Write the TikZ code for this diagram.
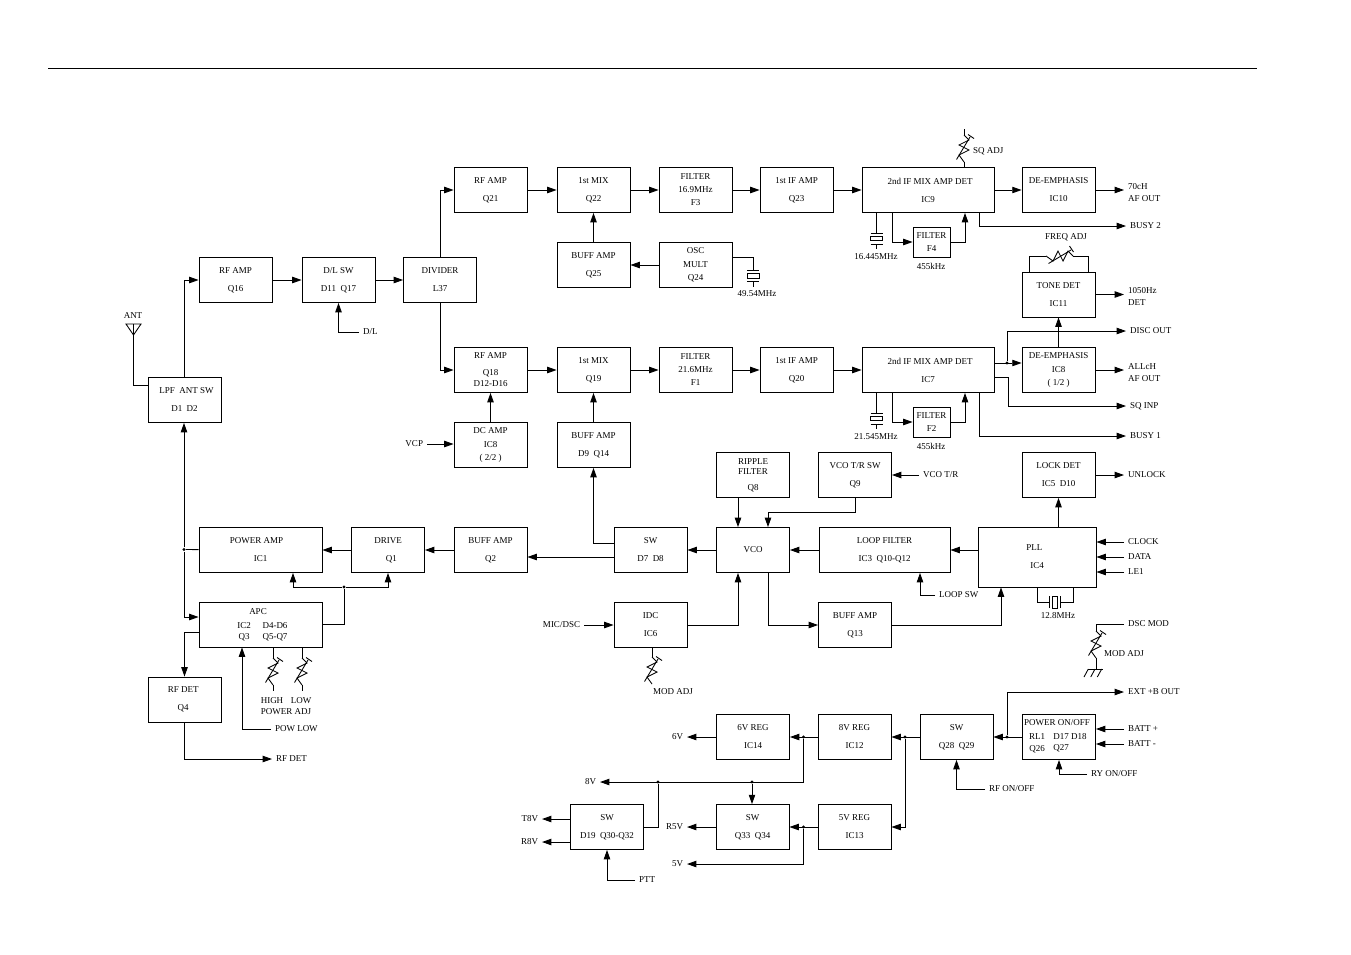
\documentclass[tikz,border=0pt]{standalone}
\usepackage{fontspec}
\setmainfont{Liberation Serif}
\usetikzlibrary{arrows.meta}
\tikzset{
	blk/.style={draw, rectangle, inner sep=0pt, minimum width=54.75pt, minimum height=33.75pt, align=center, font=\fontsize{6.75}{13.5}\selectfont},
	tri/.style={font=\fontsize{6.75}{9.75}\selectfont},
	lbl/.style={inner sep=0pt, outer sep=3pt, align=left, font=\fontsize{6.75}{9}\selectfont},
	txt/.style={inner sep=0pt, align=center, font=\fontsize{6.75}{9}\selectfont},
	dot/.style={circle, fill=black, inner sep=0pt, minimum size=2.4pt},
	arr/.style={-{Triangle[length=7pt,width=4.8pt]}},
	varres/.pic={
		\coordinate (-a) at (1,-15);
		\coordinate (-b) at (1,12);
		\draw (1,-15) -- (6,-10) -- (-4,-5) -- (6,0) -- (-4,5) -- (1,12);
		\draw (-6.5,9.5) -- (7,-13);
		\draw (5,-15.5) -- (11,-11.5);
	},
	xtal/.pic={
		\coordinate (-a) at (0,-5.5);
		\coordinate (-b) at (0,5.5);
		\draw (-6,-5.5) -- (6,-5.5);
		\draw (-6,5.5) -- (6,5.5);
		\draw (-6,-2.2) rectangle (6,2.2);
	}
}
\begin{document}
\begin{tikzpicture}[x=0.75pt,y=-0.75pt,line width=0.65pt]
	\useasboundingbox (0,0) rectangle (1351,954);
	% page rule
	\coordinate (ruleL) at (48,68);
	\coordinate (ruleR) at (1257,68);
	\draw (ruleL) -- (ruleR);

	% guide points for the wires that leave a block off centre
	\coordinate (xbn) at (892,0);
	\coordinate (xfb) at (965,0);
	\coordinate (xbs) at (979,0);
	\coordinate (xrp) at (738,0);
	\coordinate (xpll) at (1001,0);
	\coordinate (xlsw) at (920,0);
	\coordinate (xpa) at (293,0);
	\coordinate (xpow) at (242,0);
	\coordinate (xcl) at (1037,0);
	\coordinate (xcr) at (1073,0);
	\coordinate (xfl) at (1029,0);
	\coordinate (xfr) at (1088,0);
	\coordinate (yosc) at (0,257);
	\coordinate (yant) at (0,385);
	\coordinate (ysw) at (0,543);
	\coordinate (yq2) at (0,557);
	\coordinate (yin) at (0,617);
	\coordinate (yout) at (0,632);
	\coordinate (yif) at (0,363);
	\coordinate (ysq) at (0,377);
	\coordinate (jt) at (768,512);
	\coordinate (jsq) at (1008,377);

	% upper receiver
	\node[blk] (q16) at (235.5,280) {RF AMP\\Q16};
	\node[blk] (dlsw) at (338.5,280) {D/L SW\\D11\ \ Q17};
	\node[blk] (div) at (440,280) {DIVIDER\\L37};
	\node[blk] (q21) at (490.5,190) {RF AMP\\Q21};
	\node[blk] (q22) at (593.5,190) {1st MIX\\Q22};
	\node[blk,tri] (f3) at (695.5,190) {FILTER\\16.9MHz\\F3};
	\node[blk] (q23) at (796.5,190) {1st IF AMP\\Q23};
	\node[blk,minimum width=99pt] (ic9) at (928,190) {\hspace*{3pt}2nd IF MIX AMP DET\\IC9};
	\node[blk] (ic10) at (1058.5,190) {DE-EMPHASIS\\IC10};
	\node[blk] (q25) at (593.5,265) {BUFF AMP\\Q25};
	\node[blk,tri] (osc) at (695.5,265) {OSC\\[1pt]MULT\\Q24};
	\node[blk,tri,minimum width=27.75pt,minimum height=22.5pt] (f4) at (931.5,242) {FILTER\\F4};

	% lower receiver
	\node[blk] (tone) at (1058.5,294.5) {TONE DET\\IC11};
	\node[blk,tri] (q18) at (490.5,370) {RF AMP\\[3pt]Q18\\[-1.5pt]D12-D16};
	\node[blk] (q19) at (593.5,370) {1st MIX\\Q19};
	\node[blk,tri] (f1) at (695.5,370) {FILTER\\21.6MHz\\F1};
	\node[blk] (q20) at (796.5,370) {1st IF AMP\\Q20};
	\node[blk,minimum width=99pt] (ic7) at (928,370) {\hspace*{3pt}2nd IF MIX AMP DET\\IC7};
	\node[blk,tri] (ic8) at (1058.5,370) {DE-EMPHASIS\\[1pt]IC8\\( 1/2 )};
	\node[blk,tri,minimum width=27.75pt,minimum height=22.5pt] (f2) at (931.5,422) {FILTER\\F2};
	\node[blk,tri] (dcamp) at (490.5,445) {DC AMP\\[1pt]IC8\\( 2/2 )};
	\node[blk] (d9) at (593.5,445) {BUFF AMP\\D9\ \ Q14};

	% transmitter and synth
	\node[blk] (lpf) at (184.5,400) {\hspace*{3pt}LPF\ \ ANT SW\\D1\ \ D2};
	\node[blk,tri] (ripple) at (753,475) {RIPPLE\\[-2pt]FILTER\\[2pt]Q8};
	\node[blk] (vcosw) at (855,475) {VCO T/R SW\\Q9};
	\node[blk] (lockdet) at (1058.5,475) {LOCK DET\\IC5\ \ D10};
	\node[blk,minimum width=92.25pt] (pamp) at (260.5,550) {\hspace*{-6pt}POWER AMP\\IC1};
	\node[blk] (drive) at (388,550) {DRIVE\\\hspace*{5pt}Q1};
	\node[blk] (q2) at (490.5,550) {BUFF AMP\\Q2};
	\node[blk] (swd7) at (650.5,550) {SW\\D7\ \ D8};
	\node[blk] (vco) at (753,550) {VCO};
	\node[blk,minimum width=98.25pt] (loopf) at (884.5,550) {LOOP FILTER\\IC3\ \ Q10-Q12};
	\node[blk,minimum width=88.5pt,minimum height=45pt] (pll) at (1037,557) {\hspace*{-4pt}PLL\\IC4};
	\node[blk,minimum width=92.25pt] (apc) at (260.5,624.5) {};
	\node[blk] (rfdet) at (184.5,699.5) {\hspace*{-2pt}RF DET\\\hspace*{-2pt}Q4};
	\node[blk] (idc) at (650.5,625) {IDC\\IC6};
	\node[blk] (q13) at (855,625) {BUFF AMP\\Q13};

	% power supply
	\node[blk] (reg6) at (753,737) {6V REG\\IC14};
	\node[blk] (reg8) at (854.5,737) {8V REG\\IC12};
	\node[blk] (sw28) at (956.5,737) {SW\\Q28\ \ Q29};
	\node[blk] (pwr) at (1059,737) {};
	\node[blk] (swd19) at (607,827) {SW\\D19\ \ Q30-Q32};
	\node[blk] (swq33) at (752.5,827) {SW\\Q33\ \ Q34};
	\node[blk] (reg5) at (854.5,827) {5V REG\\IC13};

	% texts inside apc and power block
	\node[txt] (apct) at (258,612) {APC};
	\node[txt] (apca) at (244,626) {IC2};
	\node[txt] (apcb) at (275,626) {D4-D6};
	\node[txt] (apcc) at (244,637) {Q3};
	\node[txt] (apcd) at (275,637) {Q5-Q7};
	\node[txt] (pwrt) at (1057,723) {POWER ON/OFF};
	\node[txt] (pwra) at (1037,737) {RL1};
	\node[txt] (pwrb) at (1070,737) {D17 D18};
	\node[txt] (pwrc) at (1037,749) {Q26};
	\node[txt] (pwrd) at (1061,748) {Q27};

	% outer labels
	\node[txt] (lant) at (133,316) {ANT};
	\node[lbl,anchor=west] (lsq) at (969,151) {SQ ADJ};
	\node[lbl,anchor=west] (l70) at (1124,193) {70cH\\AF OUT};
	\node[lbl,anchor=west] (lbusy2) at (1126,226) {BUSY 2};
	\node[txt] (lfq) at (1066,237) {FREQ ADJ};
	\node[lbl,anchor=west] (l1050) at (1124,297) {1050Hz\\DET};
	\node[lbl,anchor=west] (ldisc) at (1126,331) {DISC OUT};
	\node[lbl,anchor=west] (lall) at (1124,373) {ALLcH\\AF OUT};
	\node[lbl,anchor=west] (lsqi) at (1126,406) {SQ INP};
	\node[lbl,anchor=west] (lbusy1) at (1126,436) {BUSY 1};
	\node[txt] (l49) at (757,294) {49.54MHz};
	\node[txt] (l164) at (876,257) {16.445MHz};
	\node[txt] (l215) at (876,437) {21.545MHz};
	\node[txt] (l455a) at (931,266) {455kHz};
	\node[txt] (l455b) at (931,446) {455kHz};
	\node[lbl,anchor=west] (ldl) at (359,332) {D/L};
	\node[lbl,anchor=east] (lvcp) at (427,444) {VCP};
	\node[lbl,anchor=west] (lvcot) at (919,475) {VCO T/R};
	\node[lbl,anchor=west] (lunlock) at (1124,475) {UNLOCK};
	\node[lbl,anchor=west] (lclock) at (1124,542) {CLOCK};
	\node[lbl,anchor=west] (ldata) at (1124,557) {DATA};
	\node[lbl,anchor=west] (lle) at (1124,572) {LE1};
	\node[lbl,anchor=west] (lloop) at (935,595) {LOOP SW};
	\node[txt] (l128) at (1058,616) {12.8MHz};
	\node[lbl,anchor=west] (ldsc) at (1124,624) {DSC MOD};
	\node[lbl,anchor=west] (lmoda) at (1100,654) {MOD ADJ};
	\node[lbl,anchor=east] (lmic) at (584,625) {MIC/DSC};
	\node[lbl,anchor=west] (lmodb) at (649,692) {MOD ADJ};
	\node[txt] (lhigh) at (272,701) {HIGH};
	\node[txt] (llow) at (301,701) {LOW};
	\node[txt] (lpadj) at (286,712) {POWER ADJ};
	\node[lbl,anchor=west] (lpow) at (271,729) {POW LOW};
	\node[lbl,anchor=west] (lrf) at (272,759) {RF DET};
	\node[lbl,anchor=west] (lext) at (1124,692) {EXT +B OUT};
	\node[lbl,anchor=west] (lbp) at (1124,729) {BATT +};
	\node[lbl,anchor=west] (lbm) at (1124,744) {BATT -};
	\node[lbl,anchor=west] (lry) at (1087,774) {RY ON/OFF};
	\node[lbl,anchor=west] (lrfon) at (985,789) {RF ON/OFF};
	\node[lbl,anchor=east] (v6) at (687,737) {6V};
	\node[lbl,anchor=east] (v8) at (600,782) {8V};
	\node[lbl,anchor=east] (r5v) at (687,827) {R5V};
	\node[lbl,anchor=east] (v5) at (687,864) {5V};
	\node[lbl,anchor=east] (t8v) at (542,819) {T8V};
	\node[lbl,anchor=east] (r8v) at (542,842) {R8V};
	\node[lbl,anchor=west] (lptt) at (635,880) {PTT};

	% junctions
	\node[dot] (jpa) at (184,549.5) {};
	\node[dot] (japc) at (344,587) {};
	\node[dot] (jb) at (1007,737) {};
	\node[dot] (j8) at (905,737) {};
	\node[dot] (j6) at (803.5,737) {};
	\node[dot] (j5) at (803.5,827) {};
	\node[dot] (j82) at (752,782) {};
	\node[dot] (j83) at (658,782) {};
	\node[dot] (jd) at (1007,363) {};

	% variable resistors and crystals
	\pic (rsq) at (963,150) {varres};
	\pic (rhi) at (272,673) {varres};
	\pic (rlo) at (301,673) {varres};
	\pic (rmb) at (651,672) {varres};
	\pic (rma) at (1095,646) {varres};
	\pic[rotate=-90,xscale=-1] (rfq) at (1058,257) {varres};
	\pic (x49) at (753,276) {xtal};
	\pic (x16) at (876.5,238.5) {xtal};
	\pic (x21) at (876.5,418.5) {xtal};
	\pic[rotate=90] (x12) at (1055,602) {xtal};

	% upper chain
	\draw[arr] (lpf) |- (q16);
	\draw[arr] (q16) -- (dlsw);
	\draw[arr] (dlsw) -- (div);
	\draw[arr] (ldl) -| (dlsw);
	\draw[arr] (div) |- (q21);
	\draw[arr] (q21) -- (q22);
	\draw[arr] (q22) -- (f3);
	\draw[arr] (f3) -- (q23);
	\draw[arr] (q23) -- (ic9);
	\draw[arr] (ic9) -- (ic10);
	\draw[arr] (ic10) -- (ic10 -| l70.west);
	\draw[arr] (q25) -- (q22);
	\draw[arr] (osc) -- (q25);
	\draw (osc.east |- yosc) -| (x49-a);
	\draw (x49-b) -- ++(0,5);
	\draw (ic9.south -| x16-a) -- (x16-a);
	\draw (x16-b) -- ++(0,5);
	\draw[arr] (ic9.south -| xbn) |- (f4);
	\draw[arr] (f4) -| (ic9.south -| xfb);
	\draw[arr] (ic9.south -| xbs) |- (lbusy2);
	\draw (ic9.north -| rsq-b) -- (rsq-b);
	\draw (rsq-a) -- ++(0,-6);

	% lower chain
	\draw[arr] (div) |- (q18);
	\draw[arr] (q18) -- (q19);
	\draw[arr] (q19) -- (f1);
	\draw[arr] (f1) -- (q20);
	\draw[arr] (q20) -- (ic7);
	\draw[arr] (dcamp) -- (q18);
	\draw[arr] (lvcp) -- (dcamp.west |- lvcp);
	\draw[arr] (d9) -- (q19);
	\draw (ic7.south -| x21-a) -- (x21-a);
	\draw (x21-b) -- ++(0,5);
	\draw[arr] (ic7.south -| xbn) |- (f2);
	\draw[arr] (f2) -| (ic7.south -| xfb);
	\draw[arr] (ic7.south -| xbs) |- (lbusy1);
	\draw[arr] (ic7.east |- yif) -- (ic8.west |- yif);
	\draw[arr] (jd) |- (ldisc);
	\draw[arr] (ic7.east |- ysq) -| (jsq) |- (lsqi);
	\draw[arr] (ic8) -- (ic8 -| lall.west);
	\draw[arr] (ic8) -- (tone);
	\draw[arr] (tone) -- (tone -| l1050.west);
	\draw (tone.north -| xfl) |- (rfq-b);
	\draw (tone.north -| xfr) |- (rfq-a);

	% antenna
	\coordinate (anttip) at (133.5,335);
	\draw (126,324) -- (141,324) -- (anttip) -- cycle;
	\draw (133.5,324) -- (anttip) |- (lpf.west |- yant);

	% transmit side
	\draw[arr] (jpa) -- (lpf.south -| jpa);
	\draw[arr] (jpa) |- (apc.west |- yin);
	\draw (pamp) -- (jpa);
	\draw[arr] (drive) -- (pamp);
	\draw[arr] (q2) -- (drive);
	\draw[arr] (swd7.west |- yq2) -- (q2.east |- yq2);
	\draw[arr] (swd7.west |- ysw) -| (d9);
	\draw[arr] (vco) -- (swd7);
	\draw[arr] (loopf) -- (vco);
	\draw[arr] (pll.west |- loopf) -- (loopf);
	\draw[arr] (pll.north -| lockdet) -- (lockdet);
	\draw[arr] (lockdet) -- (lunlock);
	\draw[arr] (lclock) -- (pll.east |- lclock);
	\draw[arr] (ldata) -- (pll.east |- ldata);
	\draw[arr] (lle) -- (pll.east |- lle);
	\draw[arr] (ripple.south -| xrp) -- (vco.north -| xrp);
	\draw[arr] (lvcot) -- (vcosw);
	\draw[arr] (vcosw) |- (jt) -- (vco.north -| jt);
	\draw[arr] (idc) -| (vco.south -| xrp);
	\draw[arr] (lmic) -- (idc);
	\draw[arr] (vco.south -| jt) |- (q13);
	\draw[arr] (q13) -| (pll.south -| xpll);
	\draw[arr] (lloop) -| (loopf.south -| xlsw);
	\draw (pll.south -| xcl) |- (x12-a);
	\draw (pll.south -| xcr) |- (x12-b);
	\draw (idc.south -| rmb-a) -- (rmb-a);
	\draw (apc) -| (japc);
	\draw[arr] (japc) -| (pamp.south -| xpa);
	\draw[arr] (japc) -| (drive);
	\draw[arr] (apc.west |- yout) -| (rfdet);
	\draw[arr] (rfdet) |- (lrf);
	\draw[arr] (lpow) -| (apc.south -| xpow);
	\draw (apc.south -| rhi-a) -- (rhi-a);
	\draw (rhi-b) -- ++(0,6);
	\draw (apc.south -| rlo-a) -- (rlo-a);
	\draw (rlo-b) -- ++(0,6);

	% dsc mod pot and earth
	\draw (ldsc) -| (rma-a);
	\draw (rma-b) -- ++(0,11);
	\draw (1088,669) -- (1103,669);
	\draw (1088.3,669) -- (1084,677);
	\draw (1095,669) -- (1090.7,677);
	\draw (1101.7,669) -- (1097.3,677);

	% power supply
	\draw[arr] (lbp) -- (pwr.east |- lbp);
	\draw[arr] (lbm) -- (pwr.east |- lbm);
	\draw[arr] (lry) -| (pwr);
	\draw[arr] (lrfon) -| (sw28);
	\draw[arr] (pwr) -- (sw28);
	\draw[arr] (jb) |- (lext);
	\draw[arr] (sw28) -- (reg8);
	\draw[arr] (j8) |- (reg5);
	\draw[arr] (reg8) -- (reg6);
	\draw[arr] (reg6) -- (v6);
	\draw[arr] (j6) |- (v8);
	\draw[arr] (j82) -- (swq33.north -| j82);
	\draw (j83) |- (swd19);
	\draw[arr] (reg5) -- (swq33);
	\draw[arr] (swq33) -- (r5v);
	\draw[arr] (j5) |- (v5);
	\draw[arr] (swd19.west |- t8v) -- (t8v);
	\draw[arr] (swd19.west |- r8v) -- (r8v);
	\draw[arr] (lptt) -| (swd19);
\end{tikzpicture}
\end{document}
